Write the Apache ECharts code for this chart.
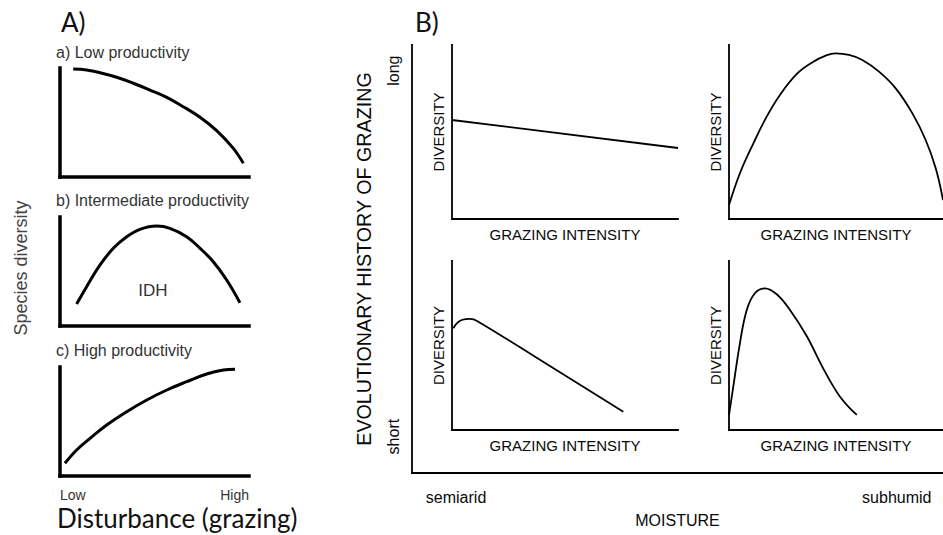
<!DOCTYPE html>
<html>
<head>
<meta charset="utf-8">
<script src="https://cdn.jsdelivr.net/npm/echarts@6/dist/echarts.min.js"></script>
<style>
  html, body { margin: 0; padding: 0; background: #ffffff; }
  #chart { width: 943px; height: 535px; }
</style>
</head>
<body>
<div id="chart"></div>
<script>
// ---- Panel A: species diversity vs disturbance (grazing), 0-100 relative scale ----
const lowProductivity = [[7.0, 99.1], [14.1, 98.2], [21.2, 95.7], [30.0, 91.5], [38.8, 86.0], [47.6, 79.8],
  [56.5, 73.1], [65.2, 64.5], [74.1, 54.8], [82.9, 42.5], [91.7, 26.3], [97.0, 12.6]];
const intermediateProductivity = [[8.8, 20.2], [14.1, 36.1], [21.2, 56.0], [28.2, 71.3], [35.3, 81.9], [42.3, 88.7],
  [51.2, 91.7], [58.2, 89.6], [67.0, 81.9], [74.1, 71.3], [81.1, 59.0], [88.2, 42.2], [95.2, 21.4]];
const highProductivity = [[2.6, 11.7], [8.8, 23.9], [15.9, 34.6], [24.7, 46.8], [35.3, 59.0], [45.9, 69.7],
  [56.5, 78.9], [67.0, 86.5], [77.6, 93.6], [86.4, 97.2], [92.6, 97.9]];
const disturbanceTicks = ['Low', 'High'];

// ---- Panel B: diversity vs grazing intensity by moisture and grazing history ----
const semiaridLongHistory = [[0, 56.9], [100, 40.8]];
const subhumidLongHistory = [[0, 8.0], [5.1, 26.3], [11.4, 43.5], [17.6, 58.8], [23.8, 71.3], [31.6, 83.3],
  [39.4, 90.4], [45.2, 93.9], [49.8, 95.2], [56.1, 94.3], [62.3, 91.4], [70.1, 84.7], [77.9, 75.1],
  [85.7, 60.7], [91.9, 45.4], [96.6, 29.1], [100, 10.9]];
const semiaridShortHistory = [[0.6, 60.2], [2.1, 63.1], [4.3, 65.1], [8.0, 65.7], [10.9, 64.7], [41.9, 39.0], [75.8, 10.8]];
const subhumidShortHistory = [[0, 8.9], [2.0, 25.6], [5.1, 51.3], [8.3, 71.0], [12.1, 80.9], [16.8, 83.8],
  [22.3, 80.3], [28.5, 71.0], [36.3, 55.6], [44.0, 36.5], [51.9, 19.7], [59.7, 8.9]];
const moistureTicks = ['semiarid', 'subhumid'];
const historyTicks = ['short', 'long'];

const sans = "'Liberation Sans', Arial, Helvetica, sans-serif";
const calibriLike = "Lato, 'Open Sans', sans-serif";

// Bare 0-100 value axis with only its line visible
function bareAxis(gridIndex, width, extra) {
  return Object.assign({
    gridIndex: gridIndex, type: 'value', min: 0, max: 100,
    axisLine: { show: true, onZero: false, lineStyle: { color: '#000', width: width, cap: 'square' } },
    axisTick: { show: false }, axisLabel: { show: false }, splitLine: { show: false }
  }, extra || {});
}

const grazingName = {
  name: 'GRAZING INTENSITY', nameLocation: 'middle', nameGap: 8,
  nameTextStyle: { fontFamily: sans, fontSize: 15, color: '#0a0a0a' }
};
const diversityName = {
  name: 'DIVERSITY', nameLocation: 'middle', nameGap: 6, nameRotate: 90,
  nameTextStyle: { fontFamily: sans, fontSize: 15, color: '#0a0a0a' }
};

const grids = [
  { left: 60, top: 68, width: 189, height: 109 },   // A a
  { left: 60, top: 217, width: 189, height: 109 },  // A b
  { left: 60, top: 367, width: 189, height: 109 },  // A c
  { left: 412, top: 45, right: 0, height: 428 },    // B frame
  { left: 452, top: 45, width: 226, height: 174 },  // B semiarid / long
  { left: 729, top: 45, right: 0, height: 174 },    // B subhumid / long
  { left: 452, top: 261, width: 226, height: 169 }, // B semiarid / short
  { left: 729, top: 261, right: 0, height: 169 }    // B subhumid / short
];

const xAxes = [
  bareAxis(0, 3.5),
  bareAxis(1, 3.5),
  bareAxis(2, 3.5, {
    axisLabel: {
      show: true, customValues: [0, 100], margin: 12,
      formatter: v => (v < 50 ? disturbanceTicks[0] : disturbanceTicks[1]),
      alignMinLabel: 'left', alignMaxLabel: 'right',
      fontFamily: sans, fontSize: 14, color: '#333'
    }
  }),
  bareAxis(3, 1.8, {
    name: 'MOISTURE', nameLocation: 'middle', nameGap: 39,
    nameTextStyle: { fontFamily: sans, fontSize: 16, color: '#0a0a0a' },
    axisLabel: {
      show: true, customValues: [8.3, 91.3], margin: 16,
      formatter: v => (v < 50 ? moistureTicks[0] : moistureTicks[1]),
      fontFamily: sans, fontSize: 16, color: '#0a0a0a'
    }
  }),
  bareAxis(4, 1.8, grazingName),
  bareAxis(5, 1.8, grazingName),
  bareAxis(6, 1.8, grazingName),
  bareAxis(7, 1.8, grazingName)
];

const yAxes = [
  bareAxis(0, 3.5),
  bareAxis(1, 3.5),
  bareAxis(2, 3.5),
  bareAxis(3, 1.8, {
    name: 'EVOLUTIONARY HISTORY OF GRAZING', nameLocation: 'middle', nameGap: 38, nameRotate: 90,
    nameTextStyle: { fontFamily: sans, fontSize: 19.7, color: '#0a0a0a' },
    axisLabel: {
      show: true, customValues: [8.5, 94], margin: 11, rotate: 90,
      formatter: v => (v < 50 ? historyTicks[0] : historyTicks[1]),
      fontFamily: sans, fontSize: 16, color: '#0a0a0a'
    }
  }),
  bareAxis(4, 1.8, diversityName),
  bareAxis(5, 1.8, diversityName),
  bareAxis(6, 1.8, diversityName),
  bareAxis(7, 1.8, diversityName)
];

function curve(idx, data, width) {
  return {
    type: 'line', xAxisIndex: idx, yAxisIndex: idx, data: data,
    smooth: 0.4, showSymbol: false, silent: true, animation: false,
    lineStyle: { color: '#000', width: width }
  };
}

function label(text, x, y, size, opts) {
  return Object.assign({
    type: 'text', x: x, y: y, silent: true,
    style: Object.assign({
      text: text, fontFamily: sans, fontSize: size, fill: '#333',
      align: 'left', verticalAlign: 'middle'
    }, (opts && opts.style) || {})
  }, opts && opts.rotation ? { rotation: opts.rotation } : {});
}

const chart = echarts.init(document.getElementById('chart'), null, { renderer: 'svg' });
chart.setOption({
  animation: false,
  backgroundColor: '#ffffff',
  grid: grids,
  xAxis: xAxes,
  yAxis: yAxes,
  series: [
    curve(0, lowProductivity, 3),
    curve(1, intermediateProductivity, 3),
    curve(2, highProductivity, 3),
    curve(4, semiaridLongHistory, 1.8),
    curve(5, subhumidLongHistory, 1.8),
    curve(6, semiaridShortHistory, 1.8),
    curve(7, subhumidShortHistory, 1.8)
  ],
  graphic: [
    label('A)', 61, 22, 26, { style: { fontFamily: calibriLike, fill: '#111' } }),
    label('B)', 415, 22, 26, { style: { fontFamily: calibriLike, fill: '#111' } }),
    label('a) Low productivity', 56, 52, 16),
    label('b) Intermediate productivity', 56, 200, 16),
    label('c) High productivity', 56, 350, 16),
    label('IDH', 153, 290, 17, { style: { align: 'center' } }),
    label('Species diversity', 21, 268, 18, { rotation: Math.PI / 2, style: { align: 'center', fill: '#444' } }),
    label('Disturbance (grazing)', 57, 518, 26, { style: { fontFamily: calibriLike, fill: '#111' } })
  ]
});
</script>
</body>
</html>
